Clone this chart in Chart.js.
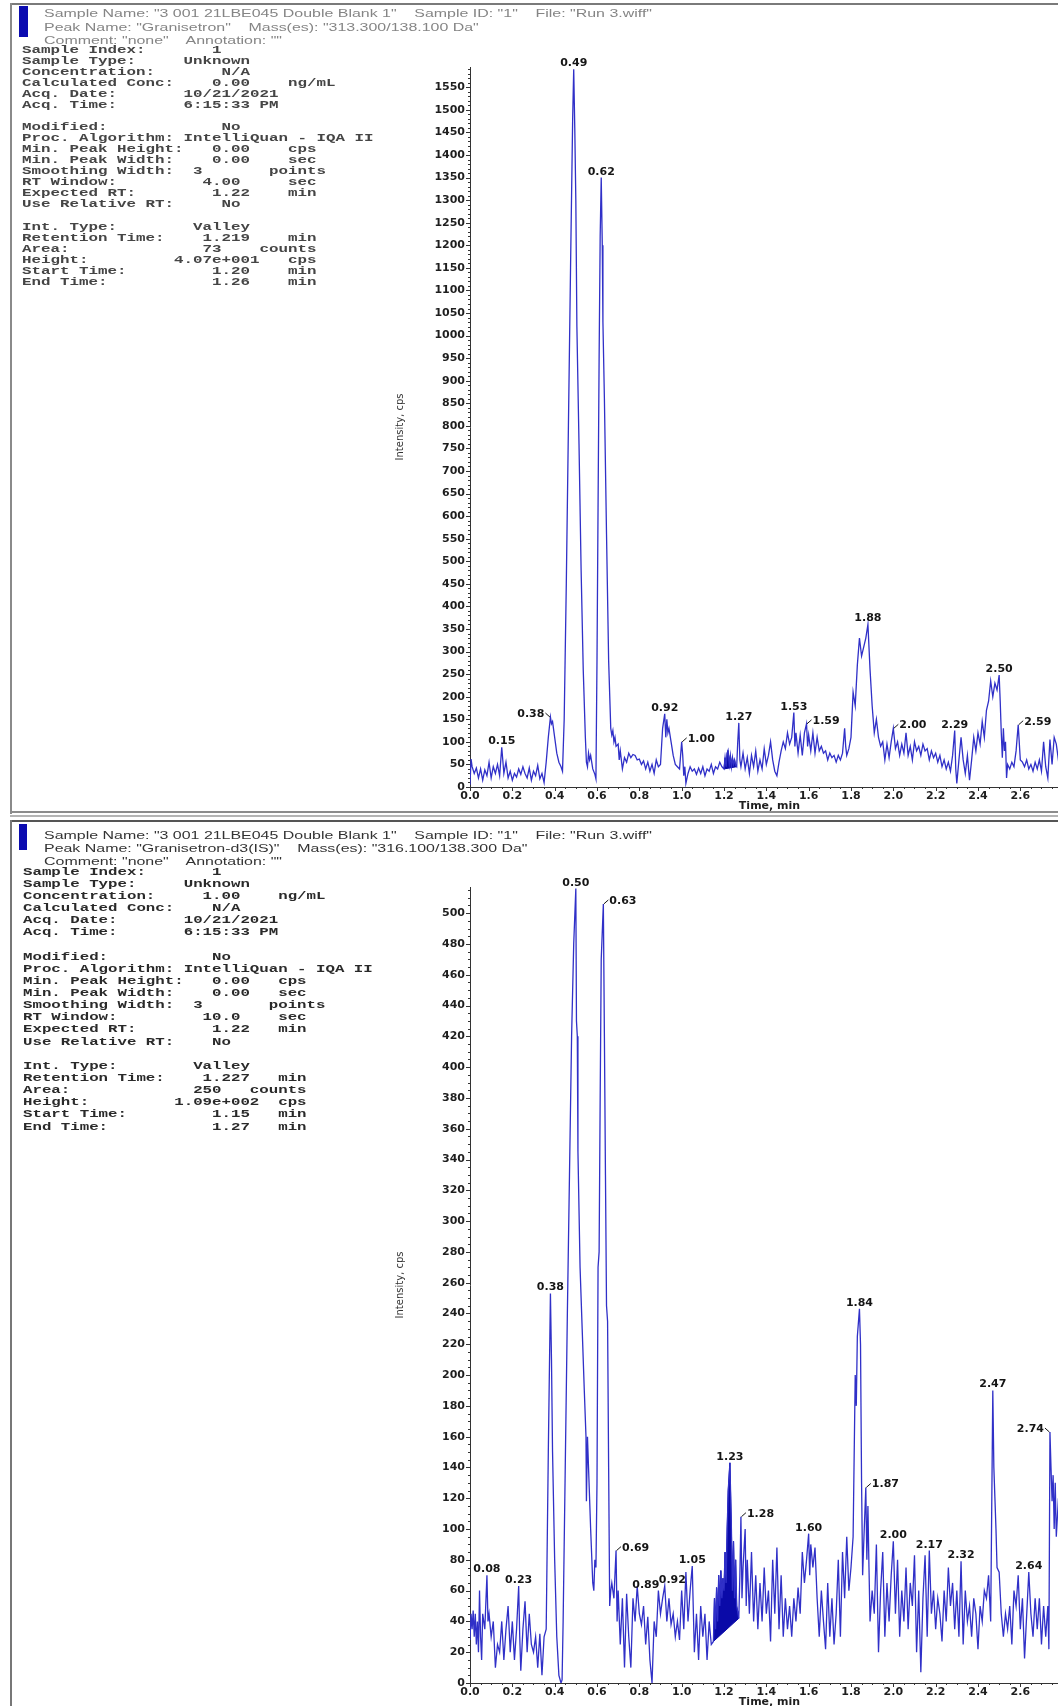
<!DOCTYPE html>
<html>
<head>
<meta charset="utf-8">
<script src="https://cdn.jsdelivr.net/npm/chart.js@4.4.1/dist/chart.umd.min.js"></script>
<style>
  html, body { margin: 0; padding: 0; background: #fff; }
  body { width: 1058px; height: 1706px; overflow: hidden; position: relative; }
  .line { position: absolute; }
  .hdr { position: absolute; left: 44px; font-family: "Liberation Sans", Arial, sans-serif; font-size: 10.5px;
         white-space: pre; transform-origin: 0 0; }
  .mono { position: absolute; margin: 0; font-family: "Liberation Mono", "Courier New", monospace; font-weight: bold;
          white-space: pre; transform-origin: 0 0; }
  .chartBox { position: absolute; left: 360px; width: 709px; }
  .chartBox canvas { display: block; }
</style>
</head>
<body>

<!-- upper panel frame -->
<div class="line" style="left:10px;top:3px;width:1048px;height:2px;background:#7a7a7a"></div>
<div class="line" style="left:10px;top:3px;width:2px;height:811px;background:#8a8a8a"></div>
<div class="line" style="left:19px;top:6px;width:9px;height:31px;background:#0b0bb0"></div>
<div id="hdrTop" class="hdr" style="top:7px;line-height:13.5px;color:#858585;filter:blur(0.4px)"></div>
<pre id="paramsTop" class="mono" style="left:22px;top:44.5px;font-size:11px;line-height:11.06px;color:#454545;filter:blur(0.35px)"></pre>
<div class="chartBox" style="top:50px;height:763px"><canvas id="chartTop"></canvas></div>
<div class="line" style="left:10px;top:811px;width:1048px;height:2px;background:#8c8c8c"></div>
<div class="line" style="left:10px;top:815px;width:1048px;height:2px;background:#b4b4b4"></div>

<!-- lower panel frame -->
<div class="line" style="left:10px;top:820px;width:1048px;height:2px;background:#555"></div>
<div class="line" style="left:10px;top:820px;width:2px;height:886px;background:#777"></div>
<div class="line" style="left:19px;top:824px;width:8px;height:26px;background:#0b0bb0"></div>
<div id="hdrBottom" class="hdr" style="top:828.5px;line-height:13px;color:#333"></div>
<pre id="paramsBottom" class="mono" style="left:23px;top:865.6px;font-size:11.5px;line-height:12.14px;color:#2a2a2a"></pre>
<div class="chartBox" style="top:870px;height:839px"><canvas id="chartBottom"></canvas></div>

<script>
// ---------------- data ----------------
// Granisetron XIC 313.300/138.100 Da: [time (min), intensity (cps)]
const granisetronTrace = [
  [0.000,5],[0.005,62],[0.010,45],[0.020,30],[0.030,42],[0.040,20],[0.050,40],[0.060,15],[0.070,38],[0.080,25],
  [0.090,55],[0.100,20],[0.110,45],[0.120,30],[0.130,50],[0.140,25],[0.150,88],[0.160,30],[0.170,55],[0.180,20],
  [0.190,35],[0.200,15],[0.210,30],[0.220,22],[0.230,40],[0.240,28],[0.250,45],[0.260,30],[0.270,20],[0.280,42],
  [0.290,15],[0.300,35],[0.310,25],[0.320,48],[0.330,18],[0.340,30],[0.350,10],[0.360,55],[0.370,110],[0.380,155],
  [0.385,140],[0.390,145],[0.400,110],[0.410,75],[0.420,55],[0.430,45],[0.437,35],[0.445,150],[0.455,450],[0.465,800],
  [0.475,1150],[0.485,1480],[0.490,1590],[0.495,1460],[0.500,1300],[0.505,1020],[0.515,760],[0.525,480],[0.535,260],[0.545,110],
  [0.550,55],[0.555,45],[0.560,75],[0.565,60],[0.570,70],[0.580,40],[0.590,28],[0.595,18],[0.600,280],[0.605,620],
  [0.610,950],[0.615,1220],[0.620,1350],[0.625,1200],[0.628,1030],[0.635,860],[0.645,560],[0.655,280],[0.665,130],[0.670,115],
  [0.675,125],[0.680,100],[0.685,110],[0.690,90],[0.700,95],[0.705,60],[0.710,80],[0.720,40],[0.730,65],[0.740,55],
  [0.750,75],[0.760,65],[0.770,72],[0.780,70],[0.790,60],[0.800,62],[0.810,50],[0.820,58],[0.830,40],[0.840,55],
  [0.850,35],[0.860,50],[0.870,30],[0.880,60],[0.890,45],[0.900,50],[0.910,130],[0.920,162],[0.925,110],[0.930,150],
  [0.935,120],[0.940,130],[0.950,100],[0.960,70],[0.970,50],[0.980,45],[0.990,40],[1.000,100],[1.005,70],[1.010,25],
  [1.015,45],[1.020,8],[1.030,30],[1.040,45],[1.050,35],[1.060,40],[1.070,28],[1.080,42],[1.090,30],[1.100,45],
  [1.110,25],[1.120,40],[1.130,35],[1.140,50],[1.150,30],[1.160,45],[1.170,40],[1.180,55],[1.190,45],[1.200,40],
  [1.205,65],[1.210,45],[1.215,75],[1.219,81],[1.225,50],[1.230,70],[1.235,45],[1.240,65],[1.245,50],[1.250,60],
  [1.255,48],[1.260,45],[1.265,100],[1.270,142],[1.275,60],[1.280,45],[1.290,75],[1.300,40],[1.310,65],[1.320,30],
  [1.330,70],[1.340,45],[1.350,80],[1.360,35],[1.370,60],[1.380,40],[1.390,85],[1.400,50],[1.410,70],[1.420,100],
  [1.430,60],[1.440,35],[1.450,25],[1.460,55],[1.470,80],[1.480,100],[1.490,85],[1.500,120],[1.510,95],[1.520,110],
  [1.530,165],[1.535,90],[1.540,120],[1.550,75],[1.560,115],[1.570,70],[1.580,120],[1.590,140],[1.595,90],[1.600,115],
  [1.610,80],[1.620,120],[1.630,75],[1.640,110],[1.650,80],[1.660,90],[1.670,75],[1.680,80],[1.690,60],[1.700,75],
  [1.710,65],[1.720,70],[1.730,55],[1.740,70],[1.750,60],[1.760,75],[1.770,130],[1.775,90],[1.780,70],[1.790,85],
  [1.800,110],[1.810,210],[1.820,180],[1.830,270],[1.840,330],[1.850,290],[1.860,310],[1.870,330],[1.880,360],[1.890,260],
  [1.900,180],[1.910,120],[1.920,150],[1.930,110],[1.940,90],[1.950,100],[1.960,60],[1.970,95],[1.980,65],[1.990,100],
  [2.000,130],[2.010,85],[2.020,100],[2.030,70],[2.040,95],[2.050,75],[2.060,120],[2.070,70],[2.080,90],[2.090,60],
  [2.100,100],[2.110,80],[2.120,90],[2.130,70],[2.140,95],[2.150,80],[2.160,85],[2.170,60],[2.180,80],[2.190,65],
  [2.200,75],[2.210,55],[2.220,70],[2.230,45],[2.240,60],[2.250,40],[2.260,55],[2.270,35],[2.280,70],[2.290,125],
  [2.295,40],[2.300,8],[2.310,60],[2.320,110],[2.330,60],[2.340,30],[2.350,70],[2.360,15],[2.370,60],[2.380,110],
  [2.390,80],[2.400,120],[2.410,95],[2.420,145],[2.430,110],[2.440,170],[2.450,190],[2.460,235],[2.470,200],[2.480,230],
  [2.490,215],[2.500,248],[2.505,190],[2.510,120],[2.515,65],[2.520,130],[2.525,80],[2.530,100],[2.535,20],[2.540,50],
  [2.550,40],[2.560,55],[2.570,45],[2.580,80],[2.590,138],[2.600,60],[2.610,55],[2.620,45],[2.630,60],[2.640,40],
  [2.650,50],[2.660,35],[2.670,55],[2.680,40],[2.690,60],[2.700,35],[2.710,100],[2.720,45],[2.730,20],[2.740,105],
  [2.750,50],[2.760,110],[2.770,95],[2.780,60],[2.790,100],[2.800,70],[2.810,90],[2.820,55],[2.830,80]
];
const granisetronPeaks = [0.15, 0.38, 0.49, 0.62, 0.92, 1.00, 1.27, 1.53, 1.59, 1.88, 2.00, 2.29, 2.50, 2.59];
const granisetronIntegration = [1.20, 1.26];   // start / end time, min

// Granisetron-d3 (IS) XIC 316.100/138.300 Da: [time (min), intensity (cps)]
const granisetronD3Trace = [
  [0.000,28],[0.005,45],[0.010,35],[0.015,47],[0.020,30],[0.025,45],[0.030,25],[0.035,40],[0.040,20],[0.045,60],
  [0.050,30],[0.055,15],[0.060,45],[0.070,35],[0.080,70],[0.085,40],[0.090,45],[0.100,30],[0.110,40],[0.120,10],
  [0.130,25],[0.140,20],[0.150,40],[0.160,15],[0.170,35],[0.180,50],[0.190,20],[0.200,40],[0.210,15],[0.220,35],
  [0.230,63],[0.235,30],[0.240,8],[0.250,35],[0.260,53],[0.270,20],[0.280,45],[0.290,25],[0.300,20],[0.310,30],
  [0.320,10],[0.330,32],[0.340,5],[0.350,30],[0.360,35],[0.370,150],[0.380,253],[0.385,210],[0.390,150],[0.400,80],
  [0.410,30],[0.420,5],[0.430,0],[0.435,2],[0.440,40],[0.450,140],[0.460,240],[0.470,330],[0.480,420],[0.490,480],
  [0.500,516],[0.503,430],[0.507,420],[0.510,345],[0.520,270],[0.530,230],[0.540,190],[0.548,160],[0.550,118],[0.555,160],
  [0.560,140],[0.570,100],[0.580,65],[0.585,60],[0.590,80],[0.595,75],[0.600,130],[0.605,270],[0.610,280],[0.615,380],
  [0.620,470],[0.630,506],[0.635,420],[0.640,330],[0.645,245],[0.650,235],[0.655,140],[0.660,50],[0.665,60],[0.670,65],
  [0.680,55],[0.690,86],[0.695,40],[0.700,60],[0.710,25],[0.720,55],[0.730,10],[0.740,58],[0.750,30],[0.760,10],
  [0.770,55],[0.780,40],[0.790,63],[0.800,45],[0.810,38],[0.820,50],[0.830,25],[0.840,43],[0.850,15],[0.860,0],
  [0.870,40],[0.880,30],[0.890,60],[0.900,45],[0.910,55],[0.920,63],[0.930,40],[0.940,55],[0.950,38],[0.960,45],
  [0.970,30],[0.980,40],[0.990,28],[1.000,60],[1.010,35],[1.020,72],[1.030,40],[1.040,60],[1.050,76],[1.060,20],
  [1.070,45],[1.080,15],[1.090,50],[1.100,30],[1.110,45],[1.120,15],[1.130,40],[1.140,25],[1.150,27],[1.155,55],
  [1.160,35],[1.165,62],[1.170,40],[1.175,70],[1.180,50],[1.185,73],[1.190,55],[1.195,68],[1.200,60],[1.205,85],
  [1.210,65],[1.215,100],[1.220,125],[1.228,143],[1.235,100],[1.240,60],[1.245,92],[1.250,55],[1.255,80],[1.260,50],
  [1.270,42],[1.275,70],[1.280,108],[1.285,55],[1.290,75],[1.300,100],[1.305,50],[1.310,80],[1.320,45],[1.330,85],
  [1.340,40],[1.350,70],[1.360,35],[1.370,65],[1.380,40],[1.390,75],[1.400,45],[1.410,60],[1.420,27],[1.430,80],
  [1.440,45],[1.450,88],[1.460,35],[1.470,70],[1.480,30],[1.490,55],[1.500,35],[1.510,50],[1.520,30],[1.530,55],
  [1.540,40],[1.550,62],[1.560,45],[1.570,85],[1.580,65],[1.590,80],[1.600,97],[1.605,70],[1.610,90],[1.620,75],
  [1.630,88],[1.640,55],[1.650,30],[1.660,60],[1.670,40],[1.680,22],[1.690,65],[1.700,30],[1.710,55],[1.720,25],
  [1.730,45],[1.740,80],[1.750,30],[1.760,85],[1.770,55],[1.780,95],[1.790,60],[1.800,75],[1.810,95],[1.820,200],
  [1.825,180],[1.830,225],[1.840,243],[1.845,220],[1.850,130],[1.855,70],[1.860,90],[1.870,127],[1.875,80],[1.880,115],
  [1.885,75],[1.890,40],[1.900,60],[1.910,45],[1.920,90],[1.930,20],[1.940,60],[1.950,85],[1.960,30],[1.970,65],
  [1.980,40],[1.990,70],[2.000,92],[2.010,45],[2.020,80],[2.030,30],[2.040,60],[2.050,40],[2.060,75],[2.070,35],
  [2.080,65],[2.090,50],[2.100,83],[2.110,20],[2.120,60],[2.130,7],[2.140,55],[2.150,83],[2.160,30],[2.170,86],
  [2.180,45],[2.190,60],[2.200,35],[2.210,55],[2.220,45],[2.230,27],[2.240,60],[2.250,40],[2.260,75],[2.270,50],
  [2.280,65],[2.290,35],[2.300,60],[2.310,30],[2.320,79],[2.330,25],[2.340,60],[2.350,40],[2.360,50],[2.370,30],
  [2.380,55],[2.390,45],[2.400,22],[2.410,50],[2.420,40],[2.430,60],[2.440,55],[2.450,70],[2.460,40],[2.470,190],
  [2.475,140],[2.480,120],[2.485,100],[2.490,75],[2.500,72],[2.510,45],[2.520,30],[2.530,45],[2.540,35],[2.550,50],
  [2.560,25],[2.570,60],[2.580,50],[2.590,70],[2.600,35],[2.610,55],[2.620,16],[2.640,72],[2.650,45],[2.660,30],
  [2.670,55],[2.680,35],[2.690,55],[2.700,25],[2.710,50],[2.720,30],[2.730,50],[2.735,22],[2.740,163],[2.745,140],
  [2.750,118],[2.755,135],[2.760,100],[2.765,130],[2.770,95],[2.780,120],[2.790,90],[2.800,130],[2.810,85],[2.820,110],
  [2.830,70]
];
const granisetronD3Peaks = [0.08, 0.23, 0.38, 0.50, 0.63, 0.69, 0.89, 0.92, 1.05, 1.23, 1.28, 1.60, 1.84, 1.87,
                            2.00, 2.17, 2.32, 2.47, 2.64, 2.74];
const granisetronD3Integration = [1.15, 1.27];

// axis tick settings
const timeTickStep = 0.2;
const lastTimeLabel = 2.6;
const topIntensityStep = 50;
const bottomIntensityStep = 20;

// header and results text of each panel
const headerTop = [
  'Sample Name: "3 001 21LBE045 Double Blank 1"    Sample ID: "1"    File: "Run 3.wiff"',
  'Peak Name: "Granisetron"    Mass(es): "313.300/138.100 Da"',
  'Comment: "none"    Annotation: ""'
];
const headerBottom = [
  'Sample Name: "3 001 21LBE045 Double Blank 1"    Sample ID: "1"    File: "Run 3.wiff"',
  'Peak Name: "Granisetron-d3(IS)"    Mass(es): "316.100/138.300 Da"',
  'Comment: "none"    Annotation: ""'
];
const paramsTop = [
  ['Sample Index:', 20, '1'],
  ['Sample Type:', 17, 'Unknown'],
  ['Concentration:', 21, 'N/A'],
  ['Calculated Conc:', 20, '0.00', 28, 'ng/mL'],
  ['Acq. Date:', 17, '10/21/2021'],
  ['Acq. Time:', 17, '6:15:33 PM'],
  [],
  ['Modified:', 21, 'No'],
  ['Proc. Algorithm:', 17, 'IntelliQuan - IQA II'],
  ['Min. Peak Height:', 20, '0.00', 28, 'cps'],
  ['Min. Peak Width:', 20, '0.00', 28, 'sec'],
  ['Smoothing Width:', 18, '3', 26, 'points'],
  ['RT Window:', 19, '4.00', 28, 'sec'],
  ['Expected RT:', 20, '1.22', 28, 'min'],
  ['Use Relative RT:', 21, 'No'],
  [],
  ['Int. Type:', 18, 'Valley'],
  ['Retention Time:', 19, '1.219', 28, 'min'],
  ['Area:', 19, '73', 25, 'counts'],
  ['Height:', 16, '4.07e+001', 28, 'cps'],
  ['Start Time:', 20, '1.20', 28, 'min'],
  ['End Time:', 20, '1.26', 28, 'min']
];
const paramsBottom = [
  ['Sample Index:', 20, '1'],
  ['Sample Type:', 17, 'Unknown'],
  ['Concentration:', 19, '1.00', 27, 'ng/mL'],
  ['Calculated Conc:', 20, 'N/A'],
  ['Acq. Date:', 17, '10/21/2021'],
  ['Acq. Time:', 17, '6:15:33 PM'],
  [],
  ['Modified:', 20, 'No'],
  ['Proc. Algorithm:', 17, 'IntelliQuan - IQA II'],
  ['Min. Peak Height:', 20, '0.00', 27, 'cps'],
  ['Min. Peak Width:', 20, '0.00', 27, 'sec'],
  ['Smoothing Width:', 18, '3', 26, 'points'],
  ['RT Window:', 19, '10.0', 27, 'sec'],
  ['Expected RT:', 20, '1.22', 27, 'min'],
  ['Use Relative RT:', 20, 'No'],
  [],
  ['Int. Type:', 18, 'Valley'],
  ['Retention Time:', 19, '1.227', 27, 'min'],
  ['Area:', 18, '250', 24, 'counts'],
  ['Height:', 16, '1.09e+002', 27, 'cps'],
  ['Start Time:', 20, '1.15', 27, 'min'],
  ['End Time:', 20, '1.27', 27, 'min']
];

// ---------------- text blocks ----------------
function columnRow(row) {
  if (!row.length) return '';
  let s = row[0];
  for (let i = 1; i < row.length; i += 2) {
    const col = row[i];
    while (s.length < col) s += ' ';
    s += row[i + 1];
  }
  return s;
}
function fillMono(id, rows, charWidth) {
  const el = document.getElementById(id);
  el.textContent = rows.map(columnRow).join('\n');
  const size = parseFloat(el.style.fontSize);
  el.style.transform = 'scaleX(' + (charWidth / (0.6 * size)) + ')';
}
function fillHeader(id, lines, firstLineWidth) {
  const el = document.getElementById(id);
  el.innerHTML = '';
  lines.forEach(t => { const d = document.createElement('div'); d.textContent = t; el.appendChild(d); });
  const probe = document.createElement('span');
  probe.textContent = lines[0];
  el.firstChild.textContent = '';
  el.firstChild.appendChild(probe);
  const w = probe.getBoundingClientRect().width;
  el.style.transform = 'scaleX(' + (firstLineWidth / w) + ')';
}
fillMono('paramsTop', paramsTop, 9.5);
fillMono('paramsBottom', paramsBottom, 9.45);
fillHeader('hdrTop', headerTop, 608);
fillHeader('hdrBottom', headerBottom, 608);

// ---------------- chart helpers ----------------
const traceColor = '#3030c8';
const areaColor = '#0a0aa8';
Chart.defaults.font.family = '"DejaVu Sans", Arial, sans-serif';
Chart.defaults.color = '#1e1e1e';

// small and large tick marks on both axes
const tickMarks = {
  id: 'tickMarks',
  afterDraw(chart, args, o) {
    const { ctx, chartArea: a, scales: { x, y } } = chart;
    ctx.save();
    ctx.strokeStyle = '#333';
    ctx.lineWidth = 1;
    ctx.beginPath();
    for (let i = 0; i * o.xMinor <= x.max + 1e-9; i++) {
      const px = Math.round(x.getPixelForValue(i * o.xMinor)) + 0.5;
      const len = i % o.xEvery === 0 ? 4 : 2;
      ctx.moveTo(px, a.bottom);
      ctx.lineTo(px, a.bottom + len);
    }
    for (let i = 0; i * o.yMinor <= y.max + 1e-9; i++) {
      const py = Math.round(y.getPixelForValue(i * o.yMinor)) + 0.5;
      const len = i % o.yEvery === 0 ? 4 : 2;
      ctx.moveTo(a.left, py);
      ctx.lineTo(a.left - len, py);
    }
    ctx.stroke();
    ctx.restore();
  }
};

// retention-time labels placed at the apex of each labelled peak
const peakLabels = {
  id: 'peakLabels',
  afterDatasetsDraw(chart, args, o) {
    const { ctx, scales: { x, y } } = chart;
    const trace = chart.data.datasets[0].data;
    ctx.save();
    ctx.font = 'bold 11px "DejaVu Sans", Arial, sans-serif';
    ctx.fillStyle = '#151515';
    ctx.strokeStyle = '#151515';
    ctx.lineWidth = 1;
    o.times.forEach(t => {
      let apex = null;
      trace.forEach(p => { if (Math.abs(p.x - t) <= 0.006 && (!apex || p.y > apex.y)) apex = p; });
      if (!apex) return;
      const px = x.getPixelForValue(apex.x), py = y.getPixelForValue(apex.y);
      const text = t.toFixed(2);
      const place = o.place[text] || 'above';
      ctx.textBaseline = 'alphabetic';
      if (place === 'above') {
        ctx.textAlign = 'center';
        ctx.fillText(text, px, py - 3);
      } else if (place === 'aboveLeft') {
        ctx.textAlign = 'right';
        ctx.fillText(text, px + 1, py - 3);
      } else if (place === 'aboveRight') {
        ctx.textAlign = 'left';
        ctx.fillText(text, px - 6, py - 3);
      } else if (place === 'right') {
        ctx.beginPath(); ctx.moveTo(px + 0.5, py); ctx.lineTo(px + 5, py - 4); ctx.stroke();
        ctx.textAlign = 'left';
        ctx.fillText(text, px + 6, py);
      } else if (place === 'left') {
        ctx.beginPath(); ctx.moveTo(px - 0.5, py); ctx.lineTo(px - 5, py - 4); ctx.stroke();
        ctx.textAlign = 'right';
        ctx.fillText(text, px - 6, py);
      }
    });
    ctx.restore();
  }
};

function buildChart(canvasId, trace, peaks, integration, place, yMax, yStep, yMinor) {
  const pts = trace.map(([t, v]) => ({ x: t, y: v }));
  const [t0, t1] = integration;
  const segment = pts.filter(p => p.x >= t0 - 1e-9 && p.x <= t1 + 1e-9);
  const baseline = [segment[0], segment[segment.length - 1]].map(p => ({ x: p.x, y: p.y }));
  return new Chart(document.getElementById(canvasId), {
    type: 'line',
    data: {
      datasets: [
        { data: pts, borderColor: traceColor, borderWidth: 1.3, pointRadius: 0, tension: 0, fill: false, order: 0 },
        { data: segment, borderColor: areaColor, backgroundColor: areaColor, borderWidth: 1, pointRadius: 0,
          tension: 0, fill: 2, order: 1 },
        { data: baseline, borderColor: areaColor, borderWidth: 1, pointRadius: 0, fill: false, order: 2 }
      ]
    },
    options: {
      responsive: true,
      maintainAspectRatio: false,
      animation: false,
      events: [],
      layout: { padding: { top: 17, right: 0, bottom: 0, left: 0 } },
      plugins: {
        legend: { display: false },
        tooltip: { enabled: false },
        tickMarks: { xMinor: 0.05, xEvery: 4, yMinor: yMinor, yEvery: yStep / yMinor },
        peakLabels: { times: peaks, place: place }
      },
      scales: {
        x: {
          type: 'linear', min: 0, max: 2.83,
          grid: { display: false, drawTicks: false },
          border: { display: true, color: '#333', width: 1 },
          ticks: { stepSize: timeTickStep, includeBounds: false, autoSkip: false, maxRotation: 0, padding: 3,
                   font: { size: 11, weight: 'bold' }, color: '#1e1e1e',
                   callback: v => (v <= lastTimeLabel + 1e-9 ? v.toFixed(1) : '') },
          title: { display: true, text: 'Time, min', font: { size: 11, weight: 'bold' }, color: '#1e1e1e',
                   padding: { top: 0, bottom: 0 } },
          afterFit: s => { s.height = 26; }
        },
        y: {
          type: 'linear', min: 0, max: yMax,
          grid: { display: false, drawTicks: false },
          border: { display: true, color: '#333', width: 1 },
          ticks: { stepSize: yStep, includeBounds: false, autoSkip: false, padding: 5,
                   font: { size: 11, weight: 'bold' }, color: '#1e1e1e', callback: v => String(v) },
          title: { display: true, text: 'Intensity, cps', font: { size: 10 }, color: '#333',
                   padding: { top: 34, bottom: 0 } },
          afterFit: s => { s.width = 110; }
        }
      }
    },
    plugins: [tickMarks, peakLabels]
  });
}

buildChart('chartTop', granisetronTrace, granisetronPeaks, granisetronIntegration,
  { '0.38': 'left', '1.00': 'right', '1.59': 'right', '2.00': 'right', '2.59': 'right' },
  1595, topIntensityStep, 10);
buildChart('chartBottom', granisetronD3Trace, granisetronD3Peaks, granisetronD3Integration,
  { '0.63': 'right', '0.69': 'right', '1.28': 'right', '1.87': 'right', '2.74': 'left',
    '0.89': 'aboveLeft', '0.92': 'aboveRight' },
  517, bottomIntensityStep, 5);
</script>
</body>
</html>
